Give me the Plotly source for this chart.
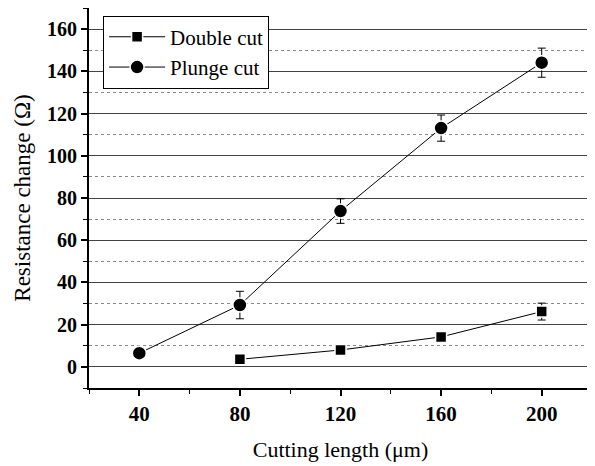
import plotly.graph_objects as go

cutting_length_double = [80, 120, 160, 200]
double_cut = [3.6, 8.0, 14.2, 26.2]
double_err = [1.0, 1.2, 1.5, 4.0]

cutting_length_plunge = [40, 80, 120, 160, 200]
plunge_cut = [6.5, 29.3, 73.8, 113.1, 144.1]
plunge_err = [0.5, 6.5, 5.8, 6.2, 6.9]

x_ticks = [40, 80, 120, 160, 200]
y_ticks = [0, 20, 40, 60, 80, 100, 120, 140, 160]

serif = "Times New Roman"

fig = go.Figure()
fig.add_trace(go.Scatter(
    x=cutting_length_double, y=double_cut, name="Double cut",
    mode="lines+markers",
    line=dict(color="black", width=1),
    marker=dict(symbol="square", size=11, color="black", line=dict(color="white", width=1.5)),
    error_y=dict(type="data", array=double_err, color="black", thickness=1, width=4),
))
fig.add_trace(go.Scatter(
    x=cutting_length_plunge, y=plunge_cut, name="Plunge cut",
    mode="lines+markers",
    line=dict(color="black", width=1),
    marker=dict(symbol="circle", size=14, color="black", line=dict(color="white", width=1.5)),
    error_y=dict(type="data", array=plunge_err, color="black", thickness=1, width=4),
))

# page body has an 8px margin, so the figure is sized/offset to compensate
fig.update_layout(
    width=587, height=458,
    margin=dict(l=81, r=3, t=0, b=78, autoexpand=False),
    paper_bgcolor="white", plot_bgcolor="white",
    showlegend=True,
    legend=dict(
        x=0.028, y=0.98, xanchor="left", yanchor="top",
        bgcolor="white", bordercolor="black", borderwidth=1,
        font=dict(family=serif, size=21, color="black"),
        tracegroupgap=0, itemwidth=56,
    ),
)
fig.update_xaxes(
    range=[20, 220], tickvals=x_ticks, ticktext=["<b>%d</b>" % v for v in x_ticks],
    showgrid=False, zeroline=False, automargin=False,
    showline=True, linecolor="black", linewidth=2, mirror="ticks",
    ticks="outside", ticklen=6, tickwidth=1.5, tickcolor="black",
    tickfont=dict(family=serif, size=21, color="black"),
    minor=dict(dtick=20, tick0=0, ticks="outside", ticklen=4, tickcolor="black", tickwidth=1, showgrid=False),
    title=dict(text="Cutting length (\u03bcm)", font=dict(family=serif, size=22, color="black"), standoff=16),
)
fig.update_yaxes(
    range=[-10, 170], tickvals=y_ticks, ticktext=["<b>%d</b>" % v for v in y_ticks],
    showgrid=True, gridcolor="#444444", gridwidth=1, zeroline=False, automargin=False,
    showline=True, linecolor="black", linewidth=2, mirror="ticks",
    ticks="outside", ticklen=6, tickwidth=1.5, tickcolor="black",
    tickfont=dict(family=serif, size=20, color="black"),
    minor=dict(dtick=10, tick0=0, ticks="outside", ticklen=4, tickcolor="black", tickwidth=1,
               showgrid=True, gridcolor="#888888", griddash="dot", gridwidth=1),
    title=dict(text="Resistance change (\u03a9)", font=dict(family=serif, size=23, color="black"), standoff=10),
)

fig.write_html("out.html")
